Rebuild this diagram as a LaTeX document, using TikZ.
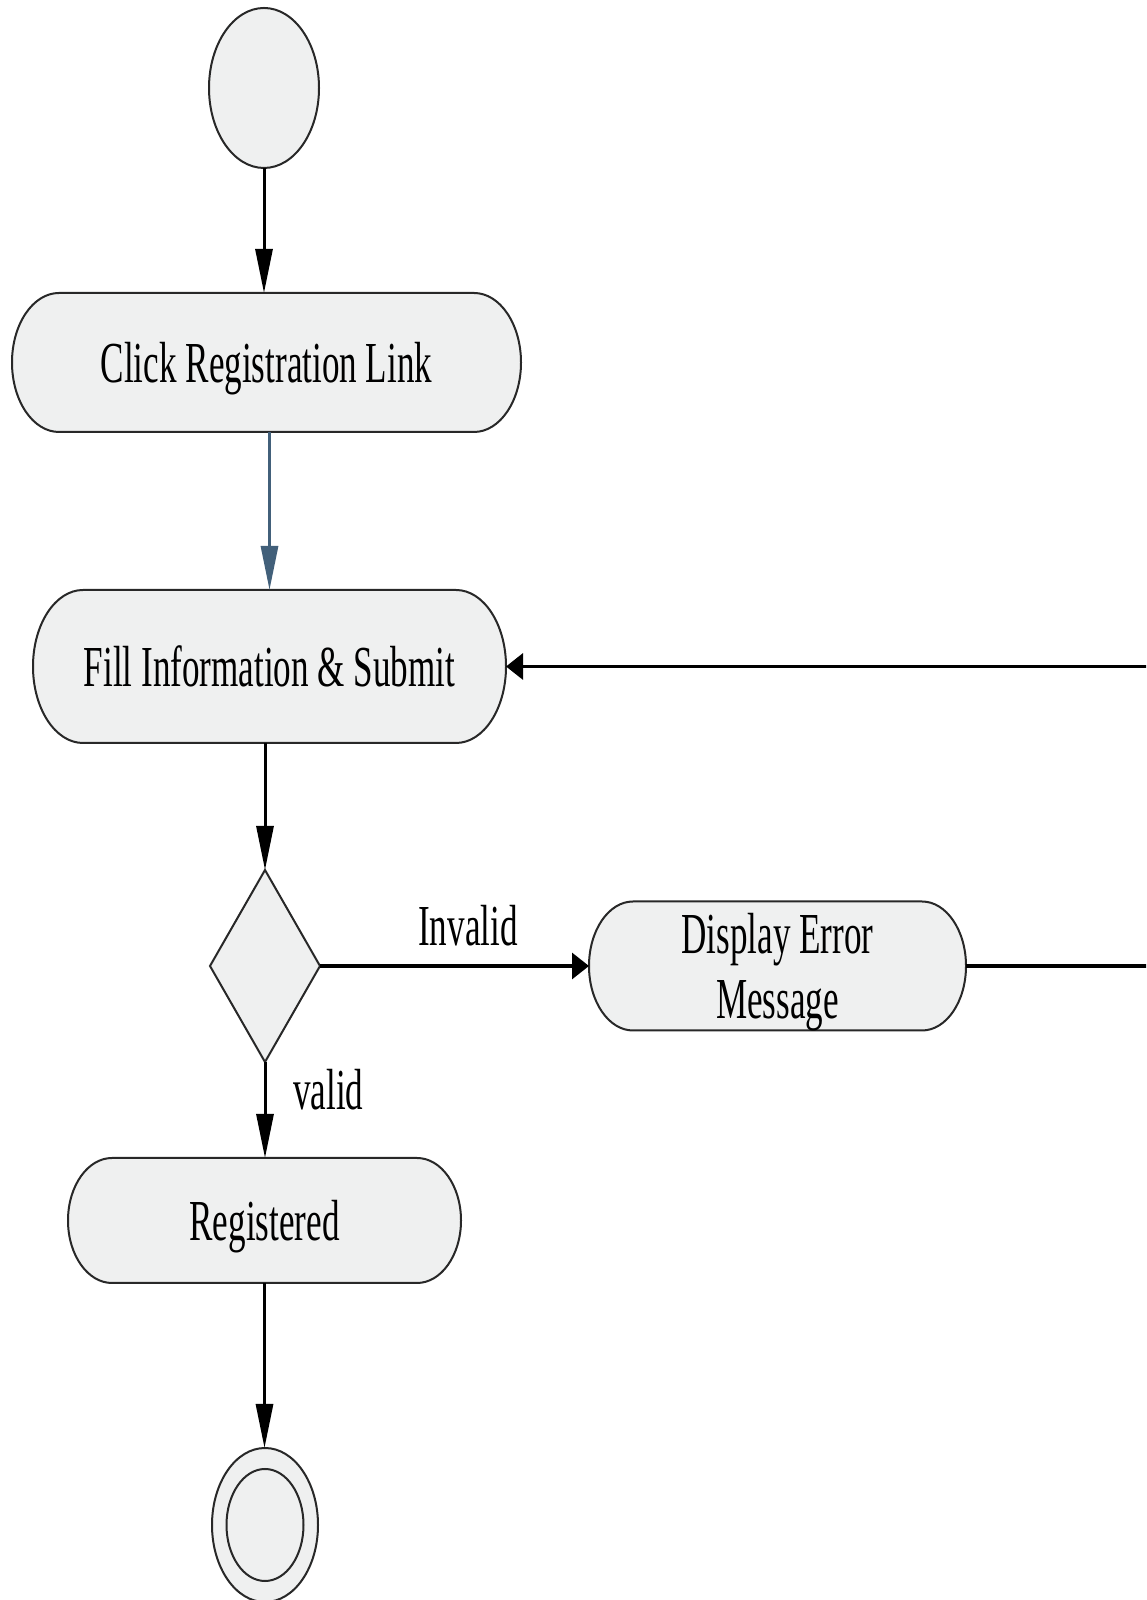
\documentclass[tikz,border=0pt]{standalone}
\usepackage{fontspec}
\newfontfamily\diagfont[FakeStretch=0.605]{Liberation Serif}
\usetikzlibrary{arrows.meta,shapes.geometric,calc,backgrounds}

\definecolor{shapefill}{RGB}{239,240,240}
\definecolor{shapeline}{RGB}{40,40,40}
\definecolor{flowblue}{RGB}{66,96,122}

\tikzset{
  boxshape/.style={fill=shapefill, draw=shapeline, line width=2pt},
  action/.style={rectangle, inner sep=0pt, outer sep=0pt, align=center,
    text depth=0pt, font=\diagfont\fontsize{58}{65}\selectfont},
  terminal/.style={ellipse, boxshape, inner sep=0pt, outer sep=0pt},
  decision/.style={diamond, boxshape, inner sep=0pt, outer sep=0pt},
  flowlabel/.style={inner sep=0pt, font=\diagfont\fontsize{58}{65}\selectfont},
  flow/.style={line width=3pt, -{Triangle[length=44pt,width=17pt]}},
  hflow/.style={line width=3.2pt, -{Triangle[length=17pt,width=26pt]}}
}

% Activity box with elliptical ends, drawn behind the named node #1
\newcommand\activitybox[2]{%
  \begin{pgfonlayer}{background}
    \path[boxshape] let \p1=(#1.north west), \p2=(#1.south east),
      \n1={(\y1-\y2)/2} in
      (\x1+#2,\y1) -- (\x2-#2,\y1)
      arc[start angle=90, end angle=-90, x radius=#2pt, y radius=\n1]
      -- (\x1+#2,\y2)
      arc[start angle=270, end angle=90, x radius=#2pt, y radius=\n1]
      -- cycle;
  \end{pgfonlayer}}

\begin{document}
\begin{tikzpicture}[x=1pt, y=1pt]
  \useasboundingbox (0,0) rectangle (1146,1600);
  \begin{pgfonlayer}{background}
    \fill[white] (0,0) rectangle (1146,1600);
  \end{pgfonlayer}
  \clip (0,0) rectangle (1146,1600);

  % nodes
  \node[terminal, minimum width=110pt, minimum height=160pt] (start) at (264,1512) {};
  \node[action, minimum width=509pt, minimum height=139pt] (click) at (266.5,1237.5) {Click Registration Link};
  \node[action, minimum width=473pt, minimum height=153pt] (fill) at (269.5,933.5) {Fill Information \& Submit};
  \node[decision, minimum width=110pt, minimum height=192pt] (check) at (265,634) {};
  \node[action, minimum width=377pt, minimum height=129pt] (error) at (777.5,634) {Display Error\\Message};
  \node[action, minimum width=393pt, minimum height=125pt] (done) at (264.5,379.5) {Registered};
  \node[terminal, minimum width=106pt, minimum height=154pt] (final) at (265,75) {};
  \node[terminal, minimum width=77pt, minimum height=112pt] (finalcore) at (final) {};

  \activitybox{click}{47}
  \activitybox{fill}{50}
  \activitybox{error}{44}
  \activitybox{done}{44}

  % guard labels
  \node[flowlabel, anchor=base] (invalidlbl) at (468,654) {Invalid};
  \node[flowlabel, anchor=base west] (validlbl) at (293,490) {valid};

  % connectors
  \draw[flow] (start.south) -- (start.south |- click.north);
  \draw[flow, flowblue] (fill.north |- click.south) -- (fill.north);
  \draw[flow] (check.north |- fill.south) -- (check.north);
  \draw[hflow] (check.east) -- (error.west);
  \coordinate (loopturn) at (1190,634);
  \draw[hflow] (error.east) -- (loopturn) |- (fill.east);
  \draw[flow] (check.south) -- (check.south |- done.north);
  \draw[flow] (done.south) -- (done.south |- final.north);
\end{tikzpicture}
\end{document}
